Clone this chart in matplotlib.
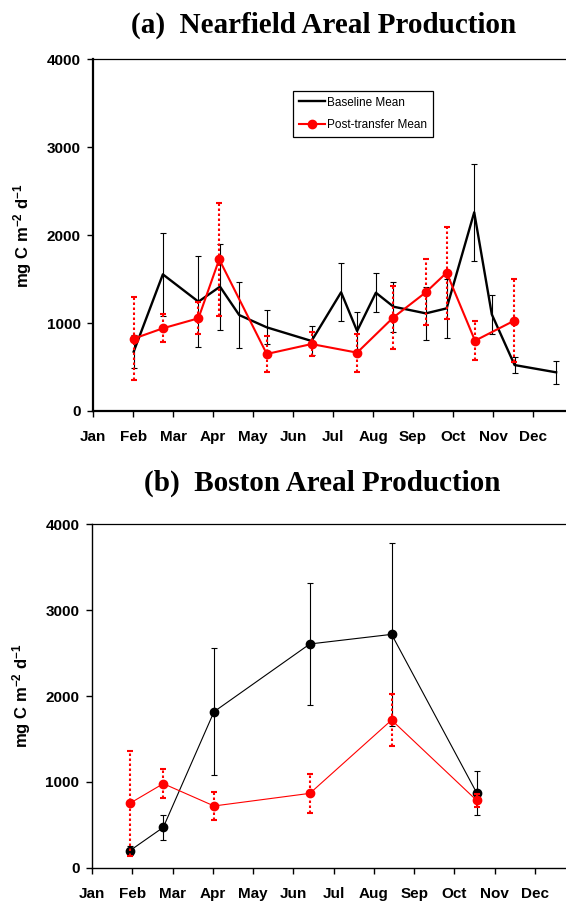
import numpy as np
import matplotlib
matplotlib.use("Agg")
import matplotlib.pyplot as plt

plt.rcParams["mathtext.fontset"] = "custom"
plt.rcParams["mathtext.rm"] = "Liberation Sans:bold"
plt.rcParams["mathtext.default"] = "rm"
plt.rcParams["axes.unicode_minus"] = False

# months since Jan 1 (Jan = 0)
months = ["Jan", "Feb", "Mar", "Apr", "May", "Jun", "Jul", "Aug", "Sep", "Oct", "Nov", "Dec"]

# (a) Nearfield
nf_base_x = [1.01, 1.74, 2.63, 3.17, 3.65, 4.34, 5.46, 6.20, 6.60, 7.07, 7.51, 8.32, 8.84, 9.53, 9.97, 10.54, 11.58]
nf_base_y = [675, 1555, 1244, 1415, 1092, 952, 797, 1351, 910, 1346, 1187, 1111, 1168, 2261, 1100, 523, 440]
nf_base_err = [190, 475, 515, 490, 372, 195, 165, 330, 220, 220, 285, 305, 335, 550, 225, 90, 130]

nf_post_x = [1.01, 1.74, 2.63, 3.15, 4.34, 5.46, 6.60, 7.50, 8.32, 8.84, 9.55, 10.53]
nf_post_y = [823, 941, 1055, 1726, 649, 762, 664, 1062, 1351, 1574, 800, 1028]
nf_post_err = [470, 160, 180, 645, 205, 135, 215, 355, 375, 525, 225, 475]

# (b) Boston
bh_x = [0.94, 1.77, 3.03, 5.41, 7.44, 9.55]
bh_base_y = [198, 470, 1817, 2606, 2718, 874]
bh_base_err = [55, 145, 740, 715, 1070, 256]
bh_post_y = [750, 979, 719, 866, 1720, 785]
bh_post_err = [608, 170, 167, 225, 305, 75]

title_font = dict(family="Liberation Serif", weight="bold", size=21)

fig = plt.figure(figsize=(5.66, 9.01), dpi=100)
ax1 = fig.add_axes([93.3 / 566, 1 - 411 / 901, (566 - 93.3) / 566, 351.5 / 901])
ax2 = fig.add_axes([92 / 566, 1 - 867.7 / 901, (566 - 92) / 566, 343.4 / 901])


def red_bars(ax, x, y, err, lw):
    eb = ax.errorbar(x, y, yerr=err, fmt="none", ecolor="red", elinewidth=lw,
                     capsize=2.5, capthick=lw, zorder=3)
    eb[2][0].set_linestyle((0, (1.2, 1.2)))
    return eb


# top panel
ax1.errorbar(nf_base_x, nf_base_y, yerr=nf_base_err, fmt="none", ecolor="black",
             elinewidth=0.8, capsize=2.5, capthick=0.8, zorder=2)
l1, = ax1.plot(nf_base_x, nf_base_y, color="black", lw=1.7, zorder=2, label="Baseline Mean")
red_bars(ax1, nf_post_x, nf_post_y, nf_post_err, 1.5)
l2, = ax1.plot(nf_post_x, nf_post_y, color="red", lw=1.5, marker="o", ms=6,
               zorder=4, label="Post-transfer Mean")
ax1.set_xlim(0, (566 - 93.3) / 39.97)

leg = ax1.legend(handles=[l1, l2], loc="upper left", bbox_to_anchor=(292.7 / 566, 1 - 90.7 / 901),
                 bbox_transform=fig.transFigure, fancybox=False, framealpha=1,
                 edgecolor="black", handlelength=2.2, handletextpad=0.2, labelspacing=0.9,
                 borderpad=0.5, borderaxespad=0, prop=dict(family="Liberation Sans", size=8.5))
leg.get_frame().set_linewidth(0.9)

# bottom panel
ax2.errorbar(bh_x, bh_base_y, yerr=bh_base_err, fmt="none", ecolor="black",
             elinewidth=0.8, capsize=2.5, capthick=0.8, zorder=2)
ax2.plot(bh_x, bh_base_y, color="black", lw=0.8, marker="o", ms=6, zorder=2)
red_bars(ax2, bh_x, bh_post_y, bh_post_err, 1.5)
ax2.plot(bh_x, bh_post_y, color="red", lw=0.8, marker="o", ms=6, zorder=4)
ax2.set_xlim(0, (566 - 92) / 40.27)

for ax, lw in [(ax1, 1.6), (ax2, 1.0)]:
    ax.set_ylim(0, 4000)
    ax.set_yticks([0, 1000, 2000, 3000, 4000])
    ax.set_xticks(np.arange(12))
    ax.set_xticklabels(months)
    ax.spines["right"].set_visible(False)
    ax.spines["left"].set_linewidth(lw)
    ax.spines["bottom"].set_linewidth(lw)
    ax.spines["top"].set_linewidth(0.9)
    ax.tick_params(direction="out", length=4, width=1)
    ax.tick_params(axis="x", pad=10)
    ax.tick_params(axis="y", pad=5)
    for t in ax.get_xticklabels() + ax.get_yticklabels():
        t.set_fontfamily("Liberation Sans")
        t.set_fontweight("bold")
        t.set_fontsize(11)
    ax.set_ylabel(r"mg C m$^{-2}$ d$^{-1}$", family="Liberation Sans",
                  weight="bold", size=12, labelpad=9)

fig.text(324 / 566, 1 - 25 / 901, "(a)  Nearfield Areal Production", ha="center", va="center", **title_font)
fig.text(322 / 566, 1 - 483 / 901, "(b)  Boston Areal Production", ha="center", va="center", **title_font)

fig.savefig("out.png", dpi=100)
